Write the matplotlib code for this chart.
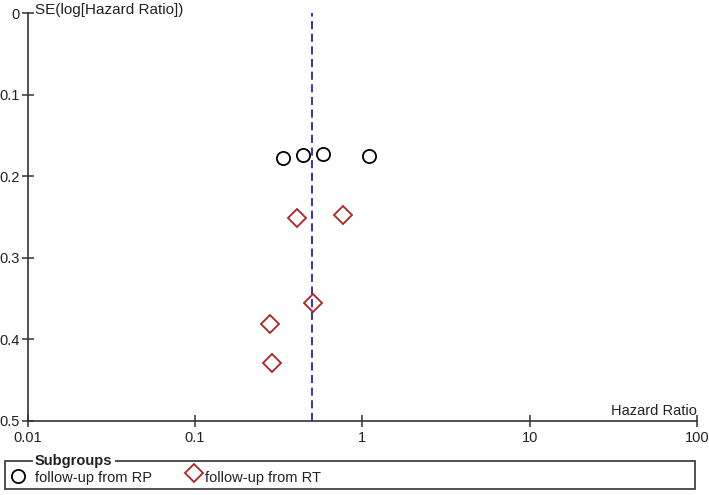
import matplotlib
matplotlib.use("Agg")
import matplotlib.pyplot as plt
from matplotlib.lines import Line2D
from matplotlib.patches import Rectangle

plt.rcParams['font.family'] = ['Liberation Sans', 'DejaVu Sans']

# Data
rp_hr = [0.336, 0.443, 0.582, 1.10]
rp_se = [0.1775, 0.1746, 0.173, 0.1758]
rt_hr = [0.405, 0.764, 0.51, 0.282, 0.29]
rt_se = [0.2507, 0.2479, 0.355, 0.381, 0.4286]
pooled_hr = 0.5
x_ticks = [0.01, 0.1, 1, 10, 100]
x_tick_labels = ["0.01", "0.1", "1", "10", "100"]
y_ticks = [0, 0.1, 0.2, 0.3, 0.4, 0.5]
y_tick_labels = ["0", "0.1", "0.2", "0.3", "0.4", "0.5"]
legend_labels = ["follow-up from RP", "follow-up from RT"]

W, H = 709, 495
FS = 10.5
fig = plt.figure(figsize=(W / 100, H / 100), dpi=100)
ax = fig.add_axes([27.5 / W, (H - 421) / H, (697 - 27.5) / W, (421 - 13) / H])

ax.set_xscale('log')
ax.set_xlim(0.01, 100)
ax.set_ylim(0.5, 0)

ax.plot([pooled_hr, pooled_hr], [0.5, 0], ls=(0, (4.5, 2.5)), color='#2424a8', lw=1.3)
ax.plot(rp_hr, rp_se, ls='none', marker='o', ms=9.5, mfc='none', mec='black', mew=1.3)
ax.plot(rt_hr, rt_se, ls='none', marker='D', ms=9, mfc='none', mec='#b22222', mew=1.3)

for s in ['top', 'right']:
    ax.spines[s].set_visible(False)
for s in ['left', 'bottom']:
    ax.spines[s].set_color('#333333')
    ax.spines[s].set_linewidth(1.2)

ax.set_xticks(x_ticks)
ax.set_xticklabels(x_tick_labels)
ax.xaxis.set_minor_locator(matplotlib.ticker.NullLocator())
ax.set_yticks(y_ticks)
ax.set_yticklabels(y_tick_labels)
ax.tick_params(direction='inout', length=9, width=1.1, color='#333333',
               labelsize=FS, labelcolor='#222222')
ax.tick_params(axis='x', pad=3)
ax.tick_params(axis='y', pad=1)

fig.text(35 / W, 1 - 10 / H, "SE(log[Hazard Ratio])", ha='left', va='center',
         fontsize=11, color='#222222')
fig.text(697 / W, 1 - 411 / H, "Hazard Ratio", ha='right', va='center',
         fontsize=FS, color='#222222')

# Legend box
fig.add_artist(Rectangle((5 / W, 1 - 489 / H), (695 - 5) / W, (489 - 461) / H,
                         transform=fig.transFigure, fill=False, ec='#333333', lw=1.2))
fig.text(35 / W, 1 - 461 / H, "Subgroups", ha='left', va='center', fontsize=FS,
         fontweight='bold', color='#222222',
         bbox=dict(facecolor='white', edgecolor='none', pad=1.5))
fig.add_artist(Line2D([18 / W], [1 - 476 / H], transform=fig.transFigure, marker='o',
                      ms=9.5, mfc='none', mec='black', mew=1.3, ls='none'))
fig.text(35 / W, 1 - 478 / H, legend_labels[0], ha='left', va='center', fontsize=FS,
         color='#222222')
fig.add_artist(Line2D([194 / W], [1 - 473 / H], transform=fig.transFigure, marker='D',
                      ms=9, mfc='none', mec='#b22222', mew=1.3, ls='none'))
fig.text(205 / W, 1 - 478 / H, legend_labels[1], ha='left', va='center', fontsize=FS,
         color='#222222')

fig.savefig("out.png", dpi=100)
